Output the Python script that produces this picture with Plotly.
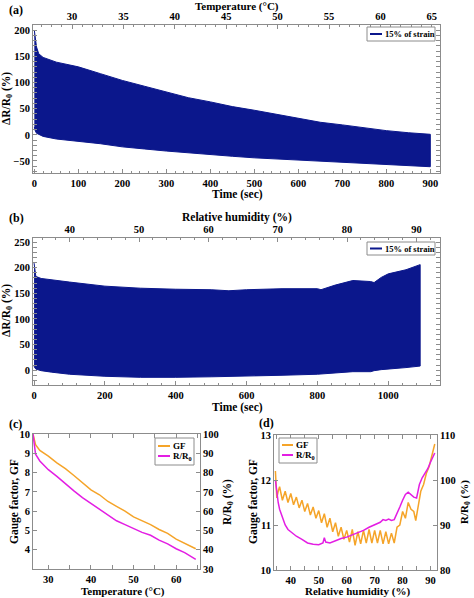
import plotly.graph_objects as go

# ---------------- data ----------------
# (a) envelope of the oscillating dR/R0 signal vs time (15% strain, temperature sweep)
t_a = [0, 2, 5, 10, 20, 50, 100, 150, 200, 250, 300, 350, 400, 450, 500, 550, 600, 650, 700, 750, 800, 850, 900]
upper_a = [200, 185, 168, 155, 148, 139, 130, 117, 104, 93, 82, 71, 63, 54, 47, 39, 31, 24, 19, 13, 8, 4, 1]
lower_a = [15, 8, 3, 0, -3, -8, -12, -17, -23, -27, -31, -35, -38, -41, -44, -47, -49, -51, -53, -55, -57, -59, -61]
temp_top_range = [26.2, 65.8]

# (b) envelope vs time (humidity sweep)
t_b = [0, 5, 20, 50, 100, 200, 300, 400, 500, 550, 600, 700, 800, 810, 850, 900, 950, 960, 980, 1000, 1050, 1090]
upper_b = [209, 183, 179, 176, 172, 164, 160, 158, 157, 155, 157, 159, 159, 157, 166, 175, 173, 171, 181, 188, 196, 206]
lower_b = [7, 2, -1, -4, -8, -12, -14, -14, -13, -13, -12, -10, -8, -8, -5, -3, -3, -1, 1, 3, 5, 8]
rh_top_range = [34.7, 93.4]

# (c) GF and R/R0 vs temperature
T_c = [26.4, 26.7, 27, 28, 29, 30, 32, 34, 36, 38, 40, 42, 44, 46, 48, 50, 52, 54, 56, 58, 60, 62, 64, 64.6]
GF_c = [10.0, 9.7, 9.45, 9.15, 9.0, 8.85, 8.5, 8.2, 7.85, 7.45, 7.1, 6.85, 6.5, 6.25, 6.0, 5.7, 5.5, 5.3, 5.05, 4.85, 4.55, 4.35, 4.15, 4.05]
RR_c = [100, 93, 89.5, 86, 83.5, 81.5, 78, 74, 70.5, 67, 64, 61, 58, 55, 53, 51, 49, 47.5, 45, 43, 40.5, 38.5, 36, 35]

# (d) GF and R/R0 vs relative humidity
RH_gf = [34.5, 35, 35.5, 36, 37, 38, 39, 40, 41, 42, 43, 44, 45, 46, 47, 48, 49, 50, 51, 52, 53, 54, 55, 56, 57, 58, 59,
         60, 61, 62, 63, 64, 65, 66, 67, 68, 69, 70, 71, 72, 73, 74, 75, 76, 77, 78, 79, 80, 81, 82, 83, 84, 84.7,
         85.5, 86.5, 87.5, 88.5, 89.5, 90.5, 91.5]
GF_d = [12.2, 11.6, 11.75, 11.85, 11.55, 11.75, 11.5, 11.7, 11.45, 11.62, 11.38, 11.55, 11.3, 11.48, 11.22, 11.4, 11.15,
        11.32, 11.05, 11.25, 10.95, 11.15, 10.85, 11.05, 10.75, 10.95, 10.68, 10.88, 10.62, 10.9, 10.55, 10.85, 10.58,
        10.88, 10.6, 10.9, 10.6, 10.88, 10.6, 10.88, 10.58, 10.85, 10.58, 10.82, 10.6, 10.95, 11.0, 11.3, 11.15, 11.5,
        11.35, 11.3, 11.1, 11.4, 11.75, 11.9, 12.15, 12.3, 12.55, 12.8]
RH_rr = [34.5, 35, 35.5, 36, 37, 38, 39, 40, 42, 44, 46, 48, 50, 51.5, 52, 52.5, 54, 56, 58, 60, 62, 64, 66, 68, 70, 72,
         73, 74, 75, 76, 77, 78, 79, 80, 81, 82, 83, 84, 85, 86, 87, 88, 89, 90, 91, 91.5]
RR_d = [100, 97, 95, 93.5, 91.5, 90, 89, 88.5, 87.5, 86.8, 86, 85.7, 85.6, 86, 87.2, 86.2, 86, 86.5, 87, 87.3, 87.8,
        88.3, 88.8, 89.5, 90, 90.6, 91.2, 91, 91.3, 91, 91.2, 92.5, 94, 95.5, 96.8, 97.3, 96.8, 96.2, 96, 99, 100.5,
        101.5, 102.5, 104, 105.5, 106]

NAVY = "#0b178c"
ORANGE = "#f5a429"
MAGENTA = "#e31ee3"
FRAME = "#8c8c8c"
FONT = "Liberation Serif"

W, H = 474, 598
def px_x(a, b):
    return [a / W, b / W]
def px_y(top, bottom):
    return [1 - bottom / H, 1 - top / H]

fig = go.Figure()

# (a) band
fig.add_trace(go.Scatter(x=t_a + t_a[::-1], y=upper_a + lower_a[::-1], fill="toself", fillcolor=NAVY,
                         mode="lines", line=dict(color=NAVY, width=1), name="15% of strain", showlegend=False,
                         xaxis="x", yaxis="y", hoverinfo="skip"))
# top temperature axis carrier (no visible mark)
fig.add_trace(go.Scatter(x=temp_top_range, y=[None, None], mode="lines", showlegend=False,
                         xaxis="x2", yaxis="y", hoverinfo="skip"))
# (b) band
fig.add_trace(go.Scatter(x=t_b + t_b[::-1], y=upper_b + lower_b[::-1], fill="toself", fillcolor=NAVY,
                         mode="lines", line=dict(color=NAVY, width=1), name="15% of strain", showlegend=False,
                         xaxis="x3", yaxis="y2", hoverinfo="skip"))
fig.add_trace(go.Scatter(x=rh_top_range, y=[None, None], mode="lines", showlegend=False,
                         xaxis="x4", yaxis="y2", hoverinfo="skip"))
# (c)
fig.add_trace(go.Scatter(x=T_c, y=GF_c, mode="lines", line=dict(color=ORANGE, width=1.5), name="GF",
                         showlegend=False, xaxis="x5", yaxis="y3"))
fig.add_trace(go.Scatter(x=T_c, y=RR_c, mode="lines", line=dict(color=MAGENTA, width=1.5), name="R/R<sub>0</sub>",
                         showlegend=False, xaxis="x5", yaxis="y4"))
# (d)
fig.add_trace(go.Scatter(x=RH_gf, y=GF_d, mode="lines", line=dict(color=ORANGE, width=1.5), name="GF",
                         showlegend=False, xaxis="x6", yaxis="y5"))
fig.add_trace(go.Scatter(x=RH_rr, y=RR_d, mode="lines", line=dict(color=MAGENTA, width=1.5), name="R/R<sub>0</sub>",
                         showlegend=False, xaxis="x6", yaxis="y6"))

tickfont = dict(family=FONT, size=10.5, color="black", weight="bold")

def ax(**kw):
    base = dict(showgrid=False, zeroline=False, showline=True, linecolor=FRAME, linewidth=1,
                ticks="inside", ticklen=4, tickcolor=FRAME, tickfont=tickfont, automargin=False)
    base.update(kw)
    return base

def minor(d):
    return dict(ticks="inside", ticklen=2, tickcolor=FRAME, dtick=d, showgrid=False)

dom_a_x = px_x(33, 440); dom_a_y = px_y(25, 173)
dom_b_x = px_x(33, 440); dom_b_y = px_y(238, 385)
dom_c_x = px_x(33, 200); dom_c_y = px_y(434, 569)
dom_d_x = px_x(274, 437); dom_d_y = px_y(435, 570)

fig.update_layout(
    width=W, height=H, margin=dict(l=0, r=0, t=0, b=0, autoexpand=False),
    paper_bgcolor="white", plot_bgcolor="white", showlegend=False,
    font=dict(family=FONT, color="black", weight="bold"),
    # (a)
    xaxis=ax(domain=dom_a_x, anchor="y", range=[-3, 922], dtick=100, tick0=0, minor=minor(20)),
    xaxis2=ax(domain=dom_a_x, anchor="y", overlaying="x", side="top", range=temp_top_range,
              dtick=5, tick0=30, minor=minor(1)),
    yaxis=ax(domain=dom_a_y, anchor="x", range=[-73, 210], dtick=50, tick0=0, mirror="allticks",
             minor=minor(10)),
    # (b)
    xaxis3=ax(domain=dom_b_x, anchor="y2", range=[-3, 1146], dtick=200, tick0=0, minor=minor(40)),
    xaxis4=ax(domain=dom_b_x, anchor="y2", overlaying="x3", side="top", range=rh_top_range,
              dtick=10, tick0=40, minor=minor(2)),
    yaxis2=ax(domain=dom_b_y, anchor="x3", range=[-29, 258], dtick=50, tick0=0, mirror="allticks",
              minor=minor(10)),
    # (c)
    xaxis5=ax(domain=dom_c_x, anchor="y3", range=[26.4, 65.6], dtick=10, tick0=30, mirror="allticks",
              minor=minor(5)),
    yaxis3=ax(domain=dom_c_y, anchor="x5", range=[3, 10], tickvals=[4, 5, 6, 7, 8, 9, 10]),
    yaxis4=ax(domain=dom_c_y, anchor="x5", overlaying="y3", side="right", range=[30, 100], dtick=10),
    # (d)
    xaxis6=ax(domain=dom_d_x, anchor="y5", range=[34, 92.3], dtick=10, tick0=40, mirror="allticks",
              minor=minor(5)),
    yaxis5=ax(domain=dom_d_y, anchor="x6", range=[10, 13], dtick=1),
    yaxis6=ax(domain=dom_d_y, anchor="x6", overlaying="y5", side="right", range=[80, 110], dtick=10),
)

def note(text, x, y, size=11.5, angle=0, xanchor="center"):
    fig.add_annotation(text=text, x=x / W, y=1 - y / H, xref="paper", yref="paper", showarrow=False,
                       textangle=angle, xanchor=xanchor, yanchor="middle",
                       font=dict(family=FONT, size=size, color="black", weight="bold"))

def legend_box(x0, y0, x1, y1, entries, line_x0, line_x1, text_x, size=9):
    fig.add_shape(type="rect", xref="paper", yref="paper", x0=x0 / W, x1=x1 / W, y0=1 - y1 / H, y1=1 - y0 / H,
                  line=dict(color=FRAME, width=1), fillcolor="white", layer="above")
    for label, color, yy in entries:
        fig.add_shape(type="line", xref="paper", yref="paper", x0=line_x0 / W, x1=line_x1 / W,
                      y0=1 - yy / H, y1=1 - yy / H, line=dict(color=color, width=2), layer="above")
        note(label, text_x, yy, size=size, xanchor="left")

# legends (drawn like the original inset boxes)
legend_box(367, 27, 435, 41, [("15% of strain", NAVY, 34)], 370, 382, 383, size=8.5)
legend_box(367, 242, 435, 255, [("15% of strain", NAVY, 248.5)], 370, 382, 383, size=8.5)
legend_box(155, 438, 194, 465, [("GF", ORANGE, 446), ("R/R<sub>0</sub>", MAGENTA, 456)], 158, 170, 171)
legend_box(279, 438, 317, 463, [("GF", ORANGE, 445), ("R/R<sub>0</sub>", MAGENTA, 455)], 282, 293, 294)

# panel labels
note("(a)", 7, 10, size=12, xanchor="left")
note("(b)", 7, 218, size=12, xanchor="left")
note("(c)", 7, 424, size=12, xanchor="left")
note("(d)", 257, 423, size=12, xanchor="left")
# axis titles
note("Temperature (°C)", 237, 7, size=11)
note("Time (sec)", 237, 194)
note("ΔR/R<sub>0</sub> (%)", 7, 99, angle=-90)
note("Relative humidity (%)", 237, 217)
note("Time (sec)", 237, 407)
note("ΔR/R<sub>0</sub> (%)", 7, 311, angle=-90)
note("Temperature (°C)", 123, 591, size=11)
note("Gauge factor, GF", 14, 502, angle=-90)
note("R/R<sub>0</sub> (%)", 228, 502, angle=-90)
note("Relative humidity (%)", 357, 591, size=11)
note("Gauge factor, GF", 253, 502, angle=-90)
note("R/R<sub>0</sub> (%)", 465, 502, angle=-90, size=11)

fig.write_html("out.html", config={"displayModeBar": False},
               post_script="document.body.style.margin='0';")
